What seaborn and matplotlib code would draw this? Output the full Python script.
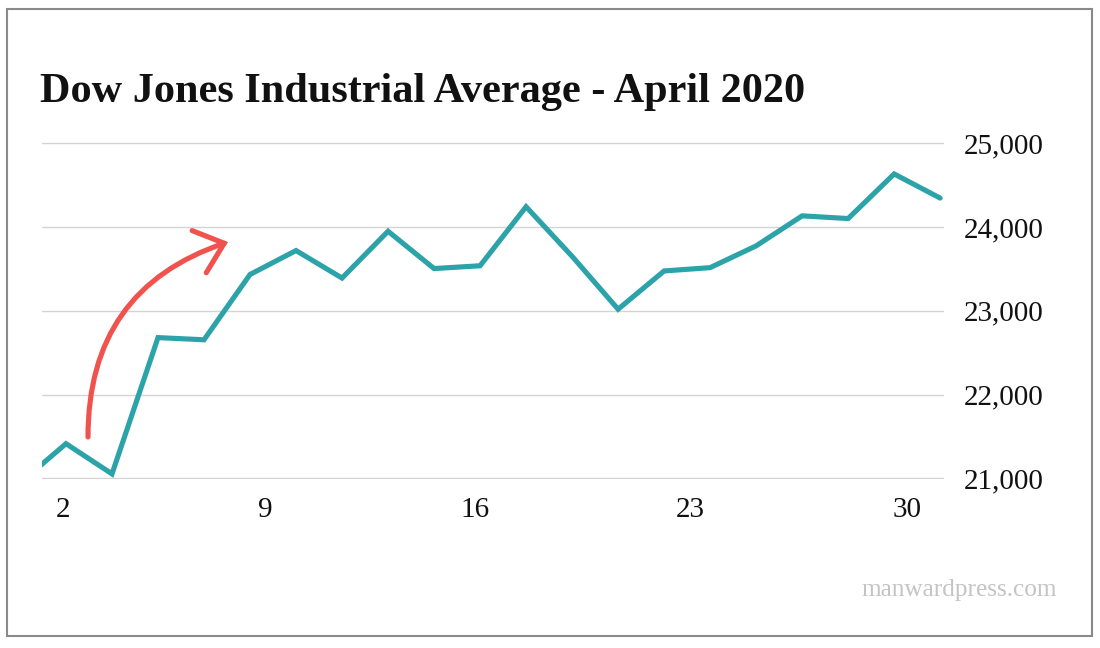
import matplotlib
matplotlib.use("Agg")
import matplotlib.pyplot as plt
import matplotlib.patches as mpatches
from matplotlib.ticker import FuncFormatter
import seaborn as sns
import pandas as pd

# Data: Dow Jones closes, April 2020 trading days
dates = ["Apr 1", "Apr 2", "Apr 3", "Apr 6", "Apr 7", "Apr 8", "Apr 9",
         "Apr 13", "Apr 14", "Apr 15", "Apr 16", "Apr 17", "Apr 20",
         "Apr 21", "Apr 22", "Apr 23", "Apr 24", "Apr 27", "Apr 28",
         "Apr 29", "Apr 30"]
closes = [20943.5, 21413.4, 21052.5, 22680.0, 22653.9, 23433.6, 23719.4,
          23390.8, 23949.8, 23504.4, 23537.7, 24242.5, 23650.4,
          23018.9, 23475.8, 23515.3, 23775.3, 24133.8, 24101.6,
          24633.9, 24345.7]
tick_labels = ["2", "9", "16", "23", "30"]
tick_positions = [0.94, 5.33, 9.89, 14.57, 19.28]
y_ticks = [21000, 22000, 23000, 24000, 25000]

df = pd.DataFrame({"idx": range(len(dates)), "date": dates, "close": closes})

sns.set_theme(style="white")
plt.rcParams["font.family"] = ["Liberation Serif", "DejaVu Serif"]

W, H = 1100, 648
fig = plt.figure(figsize=(11, 6.48), dpi=100)
fig.patch.set_facecolor("white")

pad_px = 1.0
left, right = 42.3 / W, 944.3 / W
bottom, top = 1 - (478.3 + pad_px) / H, 1 - (143.3 - pad_px) / H
ax = fig.add_axes([left, bottom, right - left, top - bottom])

sns.lineplot(data=df, x="idx", y="close", ax=ax, color="#2CA3A9",
             linewidth=3.7, solid_capstyle="round", solid_joinstyle="miter")

units_per_px = 1000 / 83.75
ax.set_xlim(0.485, 20.09)
ax.set_ylim(21000 - pad_px * units_per_px, 25000 + pad_px * units_per_px)
ax.set_yticks(y_ticks)
ax.yaxis.set_major_formatter(FuncFormatter(lambda v, p: f"{int(v):,}"))
ax.yaxis.tick_right()
ax.set_xticks(tick_positions)
ax.set_xticklabels(tick_labels)
ax.tick_params(axis="y", length=0, pad=14, labelsize=21, labelcolor="#111111")
ax.tick_params(axis="x", length=0, pad=13, labelsize=21, labelcolor="#111111")
ax.grid(axis="y", color="#d4d4d4", linewidth=1.0)
ax.grid(axis="x", visible=False)
ax.set_axisbelow(True)
for s in ax.spines.values():
    s.set_visible(False)
ax.set_xlabel("")
ax.set_ylabel("")

# Title
fig.text(40 / W, 1 - 102 / H, "Dow Jones Industrial Average - April 2020",
         fontsize=30.4, fontweight="bold", color="#111111", ha="left",
         va="baseline")

# Watermark
fig.text(1057 / W, 1 - 590 / H, "manwardpress.com", fontsize=18.2,
         color="#c4c4c4", ha="right", va="center")

# Curved red arrow
arrow = mpatches.FancyArrowPatch(
    (88 / W, 1 - 437 / H), (228 / W, 1 - 242 / H),
    transform=fig.transFigure,
    connectionstyle="arc3,rad=-0.36",
    arrowstyle=mpatches.ArrowStyle("->", head_length=19, head_width=16),
    mutation_scale=1, color="#F0524D", linewidth=3.7,
    shrinkA=0, shrinkB=0, capstyle="round", joinstyle="miter")
fig.patches.append(arrow)

# Border
border = mpatches.Rectangle((7 / W, 1 - 636 / H), 1085 / W, 627 / H,
                            transform=fig.transFigure, fill=False,
                            edgecolor="#8a8a8a", linewidth=1.5)
fig.patches.append(border)

fig.savefig("out.png", dpi=100, facecolor="white")
